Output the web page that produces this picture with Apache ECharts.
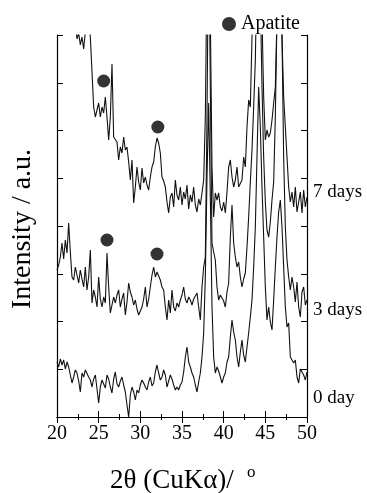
<!DOCTYPE html>
<html>
<head>
<meta charset="utf-8">
<script src="https://cdn.jsdelivr.net/npm/echarts/dist/echarts.min.js"></script>
<style>
  html, body { margin: 0; padding: 0; background: #fff; }
  #chart { width: 367px; height: 493px; }
</style>
</head>
<body>
<div id="chart"></div>
<script>
// 2theta sampling: 20.0 .. 50.0, step 0.2
const thetaStart = 20;
const thetaStep = 0.2;
const xTicks = [20, 25, 30, 35, 40, 45, 50];

// intensity (arbitrary units, curves already offset)
const day0 = [
  55, 50, 58, 52, 57, 48, 55, 50, 42, 34,
  40, 47, 44, 36, 25, 44, 40, 47, 45, 40,
  37, 30, 38, 42, 44, 14, 30, 37, 33, 29,
  42, 38, 30, 24, 38, 45, 33, 30, 36, 40,
  32, 25, 12, 0, 22, 30, 25, 17, 27, 24,
  32, 37, 34, 30, 27, 35, 40, 31, 34, 45,
  52, 44, 37, 40, 47, 42, 30, 36, 42, 38,
  32, 27, 30, 27, 32, 35, 45, 60, 70, 55,
  50, 44, 40, 32, 25, 35, 44, 60, 84, 140,
  240, 314, 220, 110, 60, 44, 50, 46, 40, 34,
  40, 44, 55, 60, 80, 97, 85, 77, 60, 50,
  65, 77, 62, 55, 70, 84, 100, 117, 150, 190,
  260, 330, 290, 230, 180, 130, 97, 110, 95, 87,
  117, 150, 180, 205, 217, 190, 150, 110, 90, 94,
  60, 62, 54, 57, 40, 34, 48, 50, 42, 37,
  45
];
const day3 = [
  147, 152, 160, 174, 158, 177, 164, 194, 165, 140,
  137, 150, 142, 134, 147, 138, 130, 150, 127, 140,
  167, 114, 127, 120, 110, 140, 118, 110, 120, 114,
  164, 130, 104, 112, 120, 114, 122, 127, 110, 118,
  124, 102, 115, 134, 125, 120, 112, 117, 108, 102,
  106, 110, 118, 130, 110, 118, 130, 142, 150, 140,
  145, 141, 137, 130, 127, 110, 97, 117, 104, 127,
  110, 106, 114, 110, 117, 122, 130, 118, 114, 120,
  117, 112, 118, 117, 124, 110, 97, 130, 150, 160,
  300, 500, 330, 174, 165, 157, 130, 117, 122, 124,
  116, 110, 125, 134, 180, 212, 174, 160, 150, 155,
  140, 130, 138, 144, 170, 200, 235, 267, 310, 357,
  450, 500, 420, 330, 260, 215, 187, 180, 195, 217,
  235, 300, 400, 500, 500, 380, 260, 190, 157, 140,
  127, 140, 130, 115, 135, 110, 100, 125, 130, 112,
  117
];
const day7 = [
  480, 470, 470, 460, 455, 450, 445, 440, 430, 420,
  410, 395, 378, 384, 372, 380, 368, 385, 392, 395,
  380, 345, 310, 300, 307, 314, 300, 310, 304, 320,
  300, 277, 300, 353, 280, 279, 275, 257, 270, 264,
  280, 267, 270, 255, 237, 257, 214, 230, 250, 235,
  227, 249, 234, 240, 232, 227, 240, 250, 255, 270,
  279, 274, 264, 240, 236, 230, 215, 204, 220, 224,
  210, 237, 222, 217, 230, 212, 225, 218, 232, 208,
  222, 215, 230, 212, 205, 218, 212, 224, 237, 300,
  450, 500, 400, 250, 200, 224, 217, 224, 210, 206,
  215, 204, 225, 250, 257, 240, 230, 237, 250, 230,
  232, 237, 260, 250, 290, 317, 310, 380, 460, 500,
  500, 500, 480, 400, 320, 277, 287, 280, 284, 297,
  314, 330, 400, 500, 500, 380, 320, 290, 260, 230,
  215, 225, 210, 230, 205, 215, 225, 204, 227, 210,
  220
];

// apatite reflections marked with dots [2theta, intensity]
const apatite = [[25.6, 336], [32.1, 290], [26.0, 177], [32.0, 163]];

const curveNames = ['7 days', '3 days', '0 day'];

const serif = '"Liberation Serif", "Times New Roman", serif';

function toPoints(values) {
  return values.map((v, i) => [+(thetaStart + i * thetaStep).toFixed(1), v]);
}

const chart = echarts.init(document.getElementById('chart'));

const tick = { show: true, inside: true, length: 6, lineStyle: { color: '#000', width: 1 } };
const minor = { show: true, splitNumber: 2, length: 3, lineStyle: { color: '#000', width: 1 } };
const line = { show: true, lineStyle: { color: '#000', width: 1.2 } };

function xAxisOf(pos, labels) {
  return {
    type: 'value', position: pos, min: xTicks[0], max: xTicks[xTicks.length - 1], interval: 5,
    axisLine: line, axisTick: tick, minorTick: minor,
    splitLine: { show: false },
    axisLabel: { show: labels, color: '#000', fontFamily: serif, fontSize: 20, margin: 7 }
  };
}
function yAxisOf(pos) {
  return {
    type: 'value', position: pos, min: 0, max: 382, interval: 47.75,
    axisLine: line, axisTick: tick,
    splitLine: { show: false },
    axisLabel: { show: false }
  };
}

function curve(values) {
  return {
    type: 'line', data: toPoints(values), showSymbol: false, symbol: 'none',
    clip: true, silent: true,
    lineStyle: { color: '#111', width: 1.1 }
  };
}

chart.setOption({
  animation: false,
  grid: { left: 57, right: 60, top: 35, bottom: 76 },
  legend: {
    data: ['Apatite'], left: 217, top: 9, icon: 'circle',
    itemWidth: 14, itemHeight: 14, selectedMode: false,
    itemStyle: { color: '#000' },
    textStyle: { fontFamily: serif, fontSize: 20, color: '#000' }
  },
  xAxis: [xAxisOf('bottom', true), xAxisOf('top', false)],
  yAxis: [yAxisOf('left'), yAxisOf('right')],
  series: [
    curve(day7), curve(day3), curve(day0),
    {
      name: 'Apatite', type: 'scatter', data: apatite,
      symbol: 'circle', symbolSize: 13, itemStyle: { color: '#000' }
    }
  ],
  graphic: [
    { type: 'text', x: 23, y: 229, rotation: Math.PI / 2,
      style: { text: 'Intensity / a.u.', font: '28px ' + serif, fill: '#000', align: 'center', verticalAlign: 'middle' } },
    { type: 'text', x: 110, y: 481,
      style: { text: '2θ (CuKα)/', font: '27px ' + serif, fill: '#000', align: 'left', verticalAlign: 'middle' } },
    { type: 'text', x: 247, y: 473,
      style: { text: 'o', font: '17px ' + serif, fill: '#000', align: 'left', verticalAlign: 'middle' } },
    { type: 'text', x: 313, y: 192,
      style: { text: curveNames[0], font: '19px ' + serif, fill: '#000', align: 'left', verticalAlign: 'middle' } },
    { type: 'text', x: 313, y: 310,
      style: { text: curveNames[1], font: '19px ' + serif, fill: '#000', align: 'left', verticalAlign: 'middle' } },
    { type: 'text', x: 313, y: 398,
      style: { text: curveNames[2], font: '19px ' + serif, fill: '#000', align: 'left', verticalAlign: 'middle' } }
  ]
});
</script>
</body>
</html>
